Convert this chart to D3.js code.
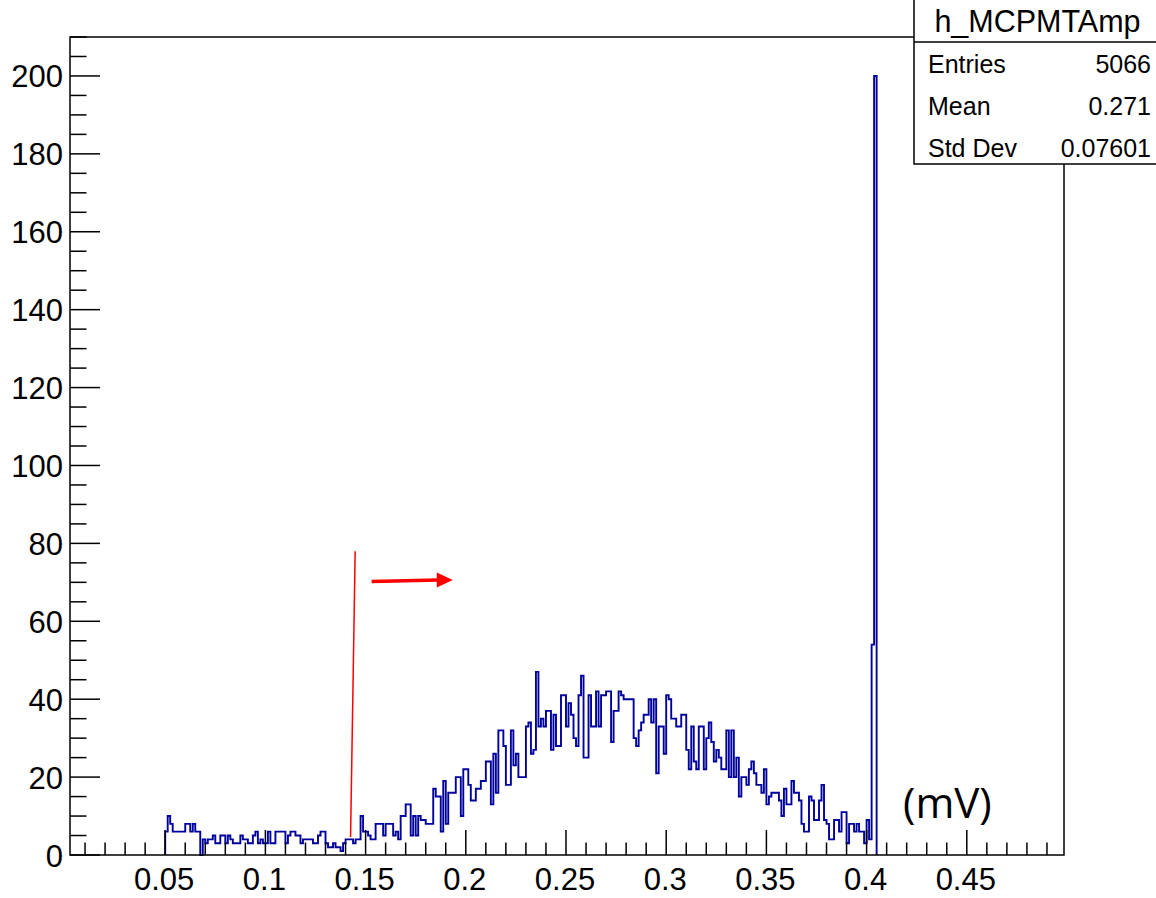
<!DOCTYPE html>
<html>
<head>
<meta charset="utf-8">
<script src="https://cdn.jsdelivr.net/npm/d3@7"></script>
<style>
  html, body { margin: 0; padding: 0; background: #fff; }
  svg { display: block; }
  text { font-family: "Liberation Sans", Arial, Helvetica, sans-serif; fill: #000; }
</style>
</head>
<body>
<svg id="chart" width="1156" height="898"></svg>
<script>
// ---------------- data ----------------
const binStart = 0.05;      // left edge of first filled bin
const binWidth = 0.00125;   // histogram bin width
const counts = [
  6,10,8,6,6,6,6,6,8,8,
  6,8,6,6,0,4,3,4,4,5,
  3,3,5,5,3,5,4,3,3,3,
  5,4,4,3,3,5,6,3,4,3,
  3,6,3,3,6,6,6,6,3,5,
  6,6,5,5,3,4,4,4,4,3,
  3,5,6,6,3,2,2,3,2,2,
  1,3,4,4,4,3,4,4,10,6,
  6,5,4,4,8,8,8,5,8,8,
  8,5,6,4,10,10,13,13,5,10,
  5,10,9,9,8,8,8,17,15,15,
  6,19,8,16,16,16,20,20,10,22,
  22,18,14,14,17,17,19,19,24,24,
  13,26,16,32,32,28,18,18,32,23,
  26,20,20,20,33,34,26,27,47,33,
  35,33,37,37,27,36,28,28,41,41,
  33,39,36,30,28,41,46,25,25,41,
  33,33,42,33,41,41,42,42,29,37,37,
  42,41,40,40,40,40,30,28,32,34,
  36,36,40,34,40,21,33,33,26,41,
  40,35,35,33,33,36,36,27,22,33,
  24,22,33,33,22,30,34,29,24,27,
  25,22,22,32,20,32,20,25,15,20,
  20,18,22,24,21,18,18,16,22,13,
  15,16,16,16,14,10,17,13,13,19,
  16,16,14,8,6,6,15,14,9,9,
  14,18,9,8,4,4,9,9,6,11,
  11,3,8,8,6,8,6,6,3,9,4,
  54,200
];
const xDomain = [0.0025, 0.4985];
const yDomain = [0, 210];
const xMajorTicks = [0.05, 0.1, 0.15, 0.2, 0.25, 0.3, 0.35, 0.4, 0.45];
const xTickLabels = ["0.05", "0.1", "0.15", "0.2", "0.25", "0.3", "0.35", "0.4", "0.45"];
const yMajorTicks = [0, 20, 40, 60, 80, 100, 120, 140, 160, 180, 200];
const yTickLabels = ["0", "20", "40", "60", "80", "100", "120", "140", "160", "180", "200"];
const statsTitle = "h_MCPMTAmp";
const statsLabels = ["Entries", "Mean", "Std Dev"];
const statsValues = ["5066", "0.271", "0.07601"];
const unitLabel = "(mV)";
// cut marker (x value, y range) and arrow (x range at y value)
const cutLine = { x0: 0.1448, y0: 78, x1: 0.1425, y1: 4.6 };
const arrow = { x0: 0.1530, x1: 0.1935, y0: 70.2, y1: 70.6 };

// ---------------- layout ----------------
const L = 70, R = 1064, T = 37, B = 855;
const svg = d3.select("#chart");
const x = d3.scaleLinear().domain(xDomain).range([L, R]);
const y = d3.scaleLinear().domain(yDomain).range([B, T]);

// histogram outline
const edges = counts.map((c, i) => binStart + i * binWidth);
const pts = [[x(binStart), y(0)]];
counts.forEach((c, i) => {
  pts.push([x(edges[i]), y(c)]);
  pts.push([x(edges[i] + binWidth), y(c)]);
});
pts.push([x(binStart + counts.length * binWidth), y(0)]);
svg.append("path")
  .attr("d", d3.line()(pts))
  .attr("fill", "none")
  .attr("stroke", "#00009c")
  .attr("stroke-width", 1.9)
  .attr("stroke-linejoin", "miter");

// frame
svg.append("rect")
  .attr("x", L).attr("y", T).attr("width", R - L).attr("height", B - T)
  .attr("fill", "none").attr("stroke", "#000").attr("stroke-width", 1.5);

// x axis ticks
const xMinor = d3.range(1, 50).map(i => i / 100).filter(v => v > xDomain[0] && v < xDomain[1]);
const gx = svg.append("g");
gx.selectAll("line.minor").data(xMinor).enter().append("line")
  .attr("x1", d => x(d)).attr("x2", d => x(d))
  .attr("y1", B).attr("y2", d => (Math.round(d * 100) % 5 === 0) ? B - 25 : B - 12.5)
  .attr("stroke", "#000").attr("stroke-width", 1.5);
gx.selectAll("text").data(xMajorTicks).enter().append("text")
  .attr("x", d => x(d) - 1).attr("y", 890)
  .attr("text-anchor", "middle")
  .attr("font-size", 31)
  .text((d, i) => xTickLabels[i]);

// y axis ticks
const yMinor = d3.range(0, 211, 5);
const gy = svg.append("g");
gy.selectAll("line").data(yMinor).enter().append("line")
  .attr("x1", L).attr("x2", d => d % 20 === 0 ? L + 30 : L + 16.5)
  .attr("y1", d => y(d)).attr("y2", d => y(d))
  .attr("stroke", "#000").attr("stroke-width", 1.5);
gy.selectAll("text").data(yMajorTicks).enter().append("text")
  .attr("x", 63).attr("y", d => y(d) + 11.5)
  .attr("text-anchor", "end")
  .attr("font-size", 31)
  .text((d, i) => yTickLabels[i]);

// stats box
const sb = { x: 914, y: -2, w: 260, h: 166, sep: 42 };
svg.append("rect")
  .attr("x", sb.x).attr("y", sb.y).attr("width", sb.w).attr("height", sb.h)
  .attr("fill", "#fff").attr("stroke", "#000").attr("stroke-width", 1.5);
svg.append("line")
  .attr("x1", sb.x).attr("x2", sb.x + sb.w).attr("y1", sb.sep).attr("y2", sb.sep)
  .attr("stroke", "#000").attr("stroke-width", 1.5);
svg.append("text")
  .attr("x", 1037.5).attr("y", 32).attr("text-anchor", "middle")
  .attr("font-size", 30.5).text(statsTitle);
const rowY = [72.5, 115, 156.5];
statsLabels.forEach((s, i) => {
  svg.append("text").attr("x", 928).attr("y", rowY[i])
    .attr("font-size", 25).text(s);
  svg.append("text").attr("x", 1151).attr("y", rowY[i])
    .attr("text-anchor", "end").attr("font-size", 25).text(statsValues[i]);
});

// red annotations
svg.append("line")
  .attr("x1", x(cutLine.x0)).attr("y1", y(cutLine.y0))
  .attr("x2", x(cutLine.x1)).attr("y2", y(cutLine.y1))
  .attr("stroke", "#ff0000").attr("stroke-width", 1.5);
const ax0 = x(arrow.x0), ax1 = x(arrow.x1), ay0 = y(arrow.y0), ay1 = y(arrow.y1);
svg.append("line")
  .attr("x1", ax0).attr("y1", ay0).attr("x2", ax1 - 14).attr("y2", ay1 + 0.1)
  .attr("stroke", "#ff0000").attr("stroke-width", 3.5);
svg.append("path")
  .attr("d", `M${ax1},${ay1} L${ax1 - 16},${ay1 - 7.5} L${ax1 - 16},${ay1 + 7.5} Z`)
  .attr("fill", "#ff0000");

// unit label
svg.append("text")
  .attr("x", 903).attr("y", 818)
  .style("font-family", "'Open Sans', 'Noto Sans', sans-serif")
  .attr("font-size", 42)
  .text(unitLabel);
</script>
</body>
</html>
